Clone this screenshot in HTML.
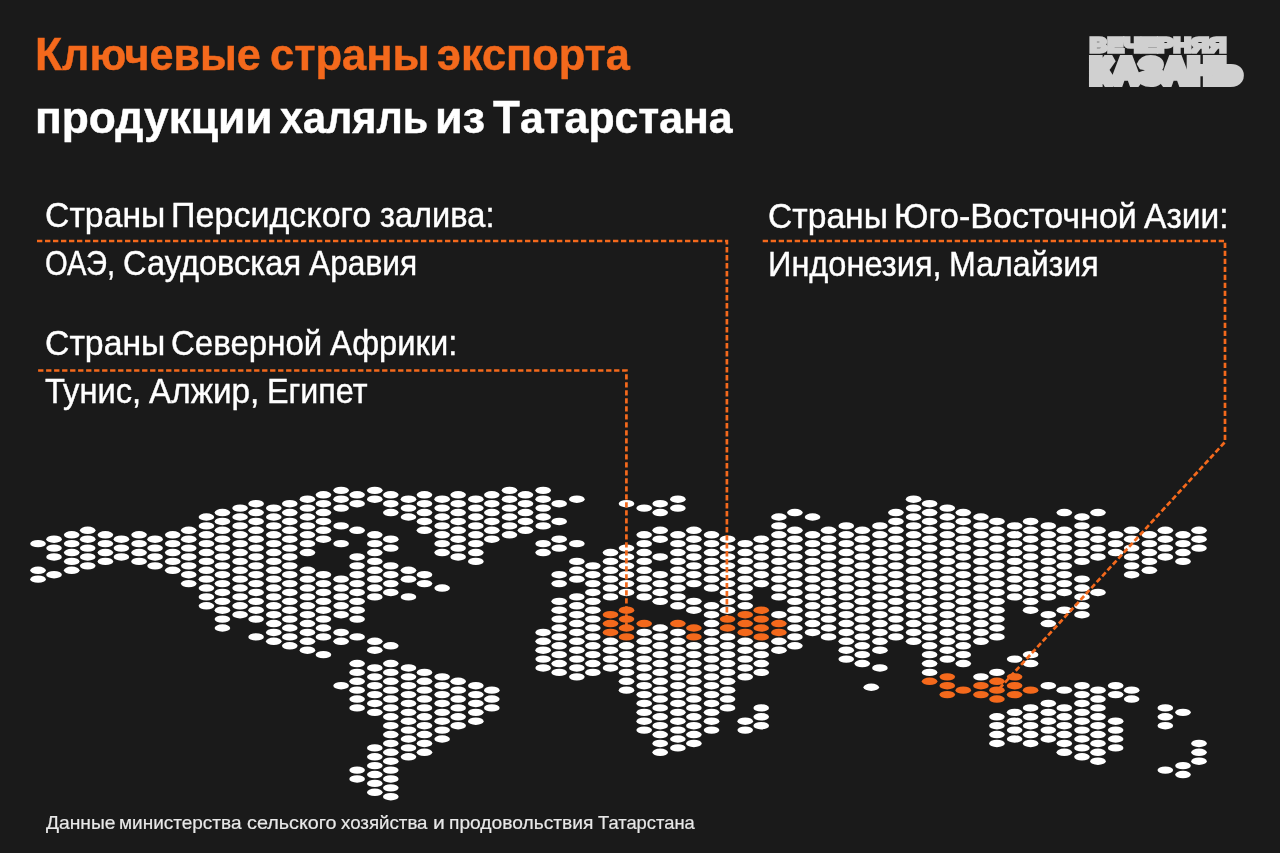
<!DOCTYPE html>
<html lang="ru">
<head>
<meta charset="utf-8">
<title>Ключевые страны экспорта продукции халяль из Татарстана</title>
<style>
html,body{margin:0;padding:0;background:#1a1a1a;}
body{width:1280px;height:853px;overflow:hidden;position:relative;font-family:"Liberation Sans",sans-serif;}
.t{position:absolute;left:0;width:1280px;height:1em;white-space:nowrap;line-height:1;margin:0;padding:0;}
.t span{position:absolute;top:0;display:block;transform-origin:0 0;}
.t b{font-size:1.03em;font-weight:inherit;line-height:0;}
svg{position:absolute;left:0;top:0;}
.w ellipse{fill:#ffffff;}
.o ellipse{fill:#f4691c;}
.ln{fill:none;stroke:#f4691c;stroke-width:2.7;stroke-dasharray:5.33 2.67;}
.logo{position:absolute;white-space:nowrap;line-height:1;font-weight:bold;color:#d0d0d0;transform-origin:0 0;}
</style>
</head>
<body>
<svg width="1280" height="853" viewBox="0 0 1280 853">
<g class="w">
<ellipse cx="38.05" cy="543.64" rx="7.8" ry="3.7"/><ellipse cx="38.05" cy="570.28" rx="7.8" ry="3.7"/><ellipse cx="38.05" cy="579.16" rx="7.8" ry="3.7"/>
<ellipse cx="54.05" cy="539.20" rx="7.8" ry="3.7"/><ellipse cx="54.05" cy="548.08" rx="7.8" ry="3.7"/><ellipse cx="54.05" cy="556.96" rx="7.8" ry="3.7"/><ellipse cx="54.05" cy="574.72" rx="7.8" ry="3.7"/>
<ellipse cx="71.72" cy="534.76" rx="7.8" ry="3.7"/><ellipse cx="71.72" cy="543.64" rx="7.8" ry="3.7"/><ellipse cx="71.72" cy="552.52" rx="7.8" ry="3.7"/><ellipse cx="71.72" cy="561.40" rx="7.8" ry="3.7"/><ellipse cx="71.72" cy="570.28" rx="7.8" ry="3.7"/>
<ellipse cx="87.72" cy="530.32" rx="7.8" ry="3.7"/><ellipse cx="87.72" cy="539.20" rx="7.8" ry="3.7"/><ellipse cx="87.72" cy="548.08" rx="7.8" ry="3.7"/><ellipse cx="87.72" cy="556.96" rx="7.8" ry="3.7"/><ellipse cx="87.72" cy="565.84" rx="7.8" ry="3.7"/>
<ellipse cx="105.40" cy="534.76" rx="7.8" ry="3.7"/><ellipse cx="105.40" cy="543.64" rx="7.8" ry="3.7"/><ellipse cx="105.40" cy="552.52" rx="7.8" ry="3.7"/><ellipse cx="105.40" cy="561.40" rx="7.8" ry="3.7"/>
<ellipse cx="121.40" cy="539.20" rx="7.8" ry="3.7"/><ellipse cx="121.40" cy="548.08" rx="7.8" ry="3.7"/><ellipse cx="121.40" cy="556.96" rx="7.8" ry="3.7"/>
<ellipse cx="139.07" cy="534.76" rx="7.8" ry="3.7"/><ellipse cx="139.07" cy="543.64" rx="7.8" ry="3.7"/><ellipse cx="139.07" cy="552.52" rx="7.8" ry="3.7"/><ellipse cx="139.07" cy="561.40" rx="7.8" ry="3.7"/>
<ellipse cx="155.07" cy="539.20" rx="7.8" ry="3.7"/><ellipse cx="155.07" cy="548.08" rx="7.8" ry="3.7"/><ellipse cx="155.07" cy="556.96" rx="7.8" ry="3.7"/><ellipse cx="155.07" cy="565.84" rx="7.8" ry="3.7"/>
<ellipse cx="172.75" cy="534.76" rx="7.8" ry="3.7"/><ellipse cx="172.75" cy="543.64" rx="7.8" ry="3.7"/><ellipse cx="172.75" cy="552.52" rx="7.8" ry="3.7"/><ellipse cx="172.75" cy="561.40" rx="7.8" ry="3.7"/><ellipse cx="172.75" cy="570.28" rx="7.8" ry="3.7"/>
<ellipse cx="188.75" cy="530.32" rx="7.8" ry="3.7"/><ellipse cx="188.75" cy="539.20" rx="7.8" ry="3.7"/><ellipse cx="188.75" cy="548.08" rx="7.8" ry="3.7"/><ellipse cx="188.75" cy="556.96" rx="7.8" ry="3.7"/><ellipse cx="188.75" cy="565.84" rx="7.8" ry="3.7"/><ellipse cx="188.75" cy="574.72" rx="7.8" ry="3.7"/><ellipse cx="188.75" cy="583.60" rx="7.8" ry="3.7"/>
<ellipse cx="206.43" cy="517.00" rx="7.8" ry="3.7"/><ellipse cx="206.43" cy="525.88" rx="7.8" ry="3.7"/><ellipse cx="206.43" cy="534.76" rx="7.8" ry="3.7"/><ellipse cx="206.43" cy="543.64" rx="7.8" ry="3.7"/><ellipse cx="206.43" cy="552.52" rx="7.8" ry="3.7"/><ellipse cx="206.43" cy="561.40" rx="7.8" ry="3.7"/><ellipse cx="206.43" cy="570.28" rx="7.8" ry="3.7"/><ellipse cx="206.43" cy="579.16" rx="7.8" ry="3.7"/><ellipse cx="206.43" cy="588.04" rx="7.8" ry="3.7"/><ellipse cx="206.43" cy="596.92" rx="7.8" ry="3.7"/><ellipse cx="206.43" cy="605.80" rx="7.8" ry="3.7"/>
<ellipse cx="222.43" cy="512.56" rx="7.8" ry="3.7"/><ellipse cx="222.43" cy="521.44" rx="7.8" ry="3.7"/><ellipse cx="222.43" cy="530.32" rx="7.8" ry="3.7"/><ellipse cx="222.43" cy="539.20" rx="7.8" ry="3.7"/><ellipse cx="222.43" cy="548.08" rx="7.8" ry="3.7"/><ellipse cx="222.43" cy="556.96" rx="7.8" ry="3.7"/><ellipse cx="222.43" cy="565.84" rx="7.8" ry="3.7"/><ellipse cx="222.43" cy="574.72" rx="7.8" ry="3.7"/><ellipse cx="222.43" cy="583.60" rx="7.8" ry="3.7"/><ellipse cx="222.43" cy="592.48" rx="7.8" ry="3.7"/><ellipse cx="222.43" cy="601.36" rx="7.8" ry="3.7"/><ellipse cx="222.43" cy="610.24" rx="7.8" ry="3.7"/><ellipse cx="222.43" cy="619.12" rx="7.8" ry="3.7"/><ellipse cx="222.43" cy="628.00" rx="7.8" ry="3.7"/>
<ellipse cx="240.10" cy="508.12" rx="7.8" ry="3.7"/><ellipse cx="240.10" cy="517.00" rx="7.8" ry="3.7"/><ellipse cx="240.10" cy="525.88" rx="7.8" ry="3.7"/><ellipse cx="240.10" cy="534.76" rx="7.8" ry="3.7"/><ellipse cx="240.10" cy="543.64" rx="7.8" ry="3.7"/><ellipse cx="240.10" cy="552.52" rx="7.8" ry="3.7"/><ellipse cx="240.10" cy="561.40" rx="7.8" ry="3.7"/><ellipse cx="240.10" cy="570.28" rx="7.8" ry="3.7"/><ellipse cx="240.10" cy="579.16" rx="7.8" ry="3.7"/><ellipse cx="240.10" cy="588.04" rx="7.8" ry="3.7"/><ellipse cx="240.10" cy="596.92" rx="7.8" ry="3.7"/><ellipse cx="240.10" cy="605.80" rx="7.8" ry="3.7"/><ellipse cx="240.10" cy="614.68" rx="7.8" ry="3.7"/>
<ellipse cx="256.10" cy="503.68" rx="7.8" ry="3.7"/><ellipse cx="256.10" cy="512.56" rx="7.8" ry="3.7"/><ellipse cx="256.10" cy="521.44" rx="7.8" ry="3.7"/><ellipse cx="256.10" cy="530.32" rx="7.8" ry="3.7"/><ellipse cx="256.10" cy="539.20" rx="7.8" ry="3.7"/><ellipse cx="256.10" cy="548.08" rx="7.8" ry="3.7"/><ellipse cx="256.10" cy="556.96" rx="7.8" ry="3.7"/><ellipse cx="256.10" cy="565.84" rx="7.8" ry="3.7"/><ellipse cx="256.10" cy="574.72" rx="7.8" ry="3.7"/><ellipse cx="256.10" cy="583.60" rx="7.8" ry="3.7"/><ellipse cx="256.10" cy="592.48" rx="7.8" ry="3.7"/><ellipse cx="256.10" cy="601.36" rx="7.8" ry="3.7"/><ellipse cx="256.10" cy="610.24" rx="7.8" ry="3.7"/><ellipse cx="256.10" cy="619.12" rx="7.8" ry="3.7"/><ellipse cx="256.10" cy="636.88" rx="7.8" ry="3.7"/>
<ellipse cx="273.77" cy="508.12" rx="7.8" ry="3.7"/><ellipse cx="273.77" cy="517.00" rx="7.8" ry="3.7"/><ellipse cx="273.77" cy="525.88" rx="7.8" ry="3.7"/><ellipse cx="273.77" cy="534.76" rx="7.8" ry="3.7"/><ellipse cx="273.77" cy="543.64" rx="7.8" ry="3.7"/><ellipse cx="273.77" cy="552.52" rx="7.8" ry="3.7"/><ellipse cx="273.77" cy="561.40" rx="7.8" ry="3.7"/><ellipse cx="273.77" cy="570.28" rx="7.8" ry="3.7"/><ellipse cx="273.77" cy="579.16" rx="7.8" ry="3.7"/><ellipse cx="273.77" cy="588.04" rx="7.8" ry="3.7"/><ellipse cx="273.77" cy="596.92" rx="7.8" ry="3.7"/><ellipse cx="273.77" cy="605.80" rx="7.8" ry="3.7"/><ellipse cx="273.77" cy="614.68" rx="7.8" ry="3.7"/><ellipse cx="273.77" cy="623.56" rx="7.8" ry="3.7"/><ellipse cx="273.77" cy="632.44" rx="7.8" ry="3.7"/><ellipse cx="273.77" cy="641.32" rx="7.8" ry="3.7"/>
<ellipse cx="289.77" cy="503.68" rx="7.8" ry="3.7"/><ellipse cx="289.77" cy="512.56" rx="7.8" ry="3.7"/><ellipse cx="289.77" cy="521.44" rx="7.8" ry="3.7"/><ellipse cx="289.77" cy="530.32" rx="7.8" ry="3.7"/><ellipse cx="289.77" cy="539.20" rx="7.8" ry="3.7"/><ellipse cx="289.77" cy="548.08" rx="7.8" ry="3.7"/><ellipse cx="289.77" cy="556.96" rx="7.8" ry="3.7"/><ellipse cx="289.77" cy="565.84" rx="7.8" ry="3.7"/><ellipse cx="289.77" cy="574.72" rx="7.8" ry="3.7"/><ellipse cx="289.77" cy="583.60" rx="7.8" ry="3.7"/><ellipse cx="289.77" cy="592.48" rx="7.8" ry="3.7"/><ellipse cx="289.77" cy="601.36" rx="7.8" ry="3.7"/><ellipse cx="289.77" cy="610.24" rx="7.8" ry="3.7"/><ellipse cx="289.77" cy="619.12" rx="7.8" ry="3.7"/><ellipse cx="289.77" cy="628.00" rx="7.8" ry="3.7"/><ellipse cx="289.77" cy="636.88" rx="7.8" ry="3.7"/><ellipse cx="289.77" cy="645.76" rx="7.8" ry="3.7"/>
<ellipse cx="307.45" cy="499.24" rx="7.8" ry="3.7"/><ellipse cx="307.45" cy="508.12" rx="7.8" ry="3.7"/><ellipse cx="307.45" cy="517.00" rx="7.8" ry="3.7"/><ellipse cx="307.45" cy="525.88" rx="7.8" ry="3.7"/><ellipse cx="307.45" cy="534.76" rx="7.8" ry="3.7"/><ellipse cx="307.45" cy="543.64" rx="7.8" ry="3.7"/><ellipse cx="307.45" cy="552.52" rx="7.8" ry="3.7"/><ellipse cx="307.45" cy="570.28" rx="7.8" ry="3.7"/><ellipse cx="307.45" cy="579.16" rx="7.8" ry="3.7"/><ellipse cx="307.45" cy="588.04" rx="7.8" ry="3.7"/><ellipse cx="307.45" cy="596.92" rx="7.8" ry="3.7"/><ellipse cx="307.45" cy="605.80" rx="7.8" ry="3.7"/><ellipse cx="307.45" cy="614.68" rx="7.8" ry="3.7"/><ellipse cx="307.45" cy="623.56" rx="7.8" ry="3.7"/><ellipse cx="307.45" cy="632.44" rx="7.8" ry="3.7"/><ellipse cx="307.45" cy="641.32" rx="7.8" ry="3.7"/><ellipse cx="307.45" cy="650.20" rx="7.8" ry="3.7"/>
<ellipse cx="323.45" cy="494.80" rx="7.8" ry="3.7"/><ellipse cx="323.45" cy="503.68" rx="7.8" ry="3.7"/><ellipse cx="323.45" cy="512.56" rx="7.8" ry="3.7"/><ellipse cx="323.45" cy="521.44" rx="7.8" ry="3.7"/><ellipse cx="323.45" cy="530.32" rx="7.8" ry="3.7"/><ellipse cx="323.45" cy="539.20" rx="7.8" ry="3.7"/><ellipse cx="323.45" cy="574.72" rx="7.8" ry="3.7"/><ellipse cx="323.45" cy="583.60" rx="7.8" ry="3.7"/><ellipse cx="323.45" cy="592.48" rx="7.8" ry="3.7"/><ellipse cx="323.45" cy="601.36" rx="7.8" ry="3.7"/><ellipse cx="323.45" cy="610.24" rx="7.8" ry="3.7"/><ellipse cx="323.45" cy="619.12" rx="7.8" ry="3.7"/><ellipse cx="323.45" cy="628.00" rx="7.8" ry="3.7"/><ellipse cx="323.45" cy="636.88" rx="7.8" ry="3.7"/><ellipse cx="323.45" cy="654.64" rx="7.8" ry="3.7"/>
<ellipse cx="341.12" cy="490.36" rx="7.8" ry="3.7"/><ellipse cx="341.12" cy="499.24" rx="7.8" ry="3.7"/><ellipse cx="341.12" cy="508.12" rx="7.8" ry="3.7"/><ellipse cx="341.12" cy="525.88" rx="7.8" ry="3.7"/><ellipse cx="341.12" cy="543.64" rx="7.8" ry="3.7"/><ellipse cx="341.12" cy="579.16" rx="7.8" ry="3.7"/><ellipse cx="341.12" cy="588.04" rx="7.8" ry="3.7"/><ellipse cx="341.12" cy="596.92" rx="7.8" ry="3.7"/><ellipse cx="341.12" cy="605.80" rx="7.8" ry="3.7"/><ellipse cx="341.12" cy="614.68" rx="7.8" ry="3.7"/><ellipse cx="341.12" cy="632.44" rx="7.8" ry="3.7"/><ellipse cx="341.12" cy="641.32" rx="7.8" ry="3.7"/><ellipse cx="341.12" cy="685.72" rx="7.8" ry="3.7"/>
<ellipse cx="357.12" cy="494.80" rx="7.8" ry="3.7"/><ellipse cx="357.12" cy="503.68" rx="7.8" ry="3.7"/><ellipse cx="357.12" cy="530.32" rx="7.8" ry="3.7"/><ellipse cx="357.12" cy="556.96" rx="7.8" ry="3.7"/><ellipse cx="357.12" cy="565.84" rx="7.8" ry="3.7"/><ellipse cx="357.12" cy="574.72" rx="7.8" ry="3.7"/><ellipse cx="357.12" cy="583.60" rx="7.8" ry="3.7"/><ellipse cx="357.12" cy="592.48" rx="7.8" ry="3.7"/><ellipse cx="357.12" cy="601.36" rx="7.8" ry="3.7"/><ellipse cx="357.12" cy="610.24" rx="7.8" ry="3.7"/><ellipse cx="357.12" cy="619.12" rx="7.8" ry="3.7"/><ellipse cx="357.12" cy="636.88" rx="7.8" ry="3.7"/><ellipse cx="357.12" cy="663.52" rx="7.8" ry="3.7"/><ellipse cx="357.12" cy="672.40" rx="7.8" ry="3.7"/><ellipse cx="357.12" cy="681.28" rx="7.8" ry="3.7"/><ellipse cx="357.12" cy="690.16" rx="7.8" ry="3.7"/><ellipse cx="357.12" cy="699.04" rx="7.8" ry="3.7"/><ellipse cx="357.12" cy="707.92" rx="7.8" ry="3.7"/><ellipse cx="357.12" cy="770.08" rx="7.8" ry="3.7"/><ellipse cx="357.12" cy="778.96" rx="7.8" ry="3.7"/>
<ellipse cx="374.80" cy="490.36" rx="7.8" ry="3.7"/><ellipse cx="374.80" cy="499.24" rx="7.8" ry="3.7"/><ellipse cx="374.80" cy="534.76" rx="7.8" ry="3.7"/><ellipse cx="374.80" cy="543.64" rx="7.8" ry="3.7"/><ellipse cx="374.80" cy="552.52" rx="7.8" ry="3.7"/><ellipse cx="374.80" cy="561.40" rx="7.8" ry="3.7"/><ellipse cx="374.80" cy="570.28" rx="7.8" ry="3.7"/><ellipse cx="374.80" cy="579.16" rx="7.8" ry="3.7"/><ellipse cx="374.80" cy="588.04" rx="7.8" ry="3.7"/><ellipse cx="374.80" cy="596.92" rx="7.8" ry="3.7"/><ellipse cx="374.80" cy="641.32" rx="7.8" ry="3.7"/><ellipse cx="374.80" cy="650.20" rx="7.8" ry="3.7"/><ellipse cx="374.80" cy="667.96" rx="7.8" ry="3.7"/><ellipse cx="374.80" cy="676.84" rx="7.8" ry="3.7"/><ellipse cx="374.80" cy="685.72" rx="7.8" ry="3.7"/><ellipse cx="374.80" cy="694.60" rx="7.8" ry="3.7"/><ellipse cx="374.80" cy="703.48" rx="7.8" ry="3.7"/><ellipse cx="374.80" cy="712.36" rx="7.8" ry="3.7"/><ellipse cx="374.80" cy="747.88" rx="7.8" ry="3.7"/><ellipse cx="374.80" cy="756.76" rx="7.8" ry="3.7"/><ellipse cx="374.80" cy="765.64" rx="7.8" ry="3.7"/><ellipse cx="374.80" cy="774.52" rx="7.8" ry="3.7"/><ellipse cx="374.80" cy="783.40" rx="7.8" ry="3.7"/><ellipse cx="374.80" cy="792.28" rx="7.8" ry="3.7"/>
<ellipse cx="390.80" cy="494.80" rx="7.8" ry="3.7"/><ellipse cx="390.80" cy="503.68" rx="7.8" ry="3.7"/><ellipse cx="390.80" cy="512.56" rx="7.8" ry="3.7"/><ellipse cx="390.80" cy="539.20" rx="7.8" ry="3.7"/><ellipse cx="390.80" cy="548.08" rx="7.8" ry="3.7"/><ellipse cx="390.80" cy="565.84" rx="7.8" ry="3.7"/><ellipse cx="390.80" cy="574.72" rx="7.8" ry="3.7"/><ellipse cx="390.80" cy="583.60" rx="7.8" ry="3.7"/><ellipse cx="390.80" cy="592.48" rx="7.8" ry="3.7"/><ellipse cx="390.80" cy="645.76" rx="7.8" ry="3.7"/><ellipse cx="390.80" cy="663.52" rx="7.8" ry="3.7"/><ellipse cx="390.80" cy="672.40" rx="7.8" ry="3.7"/><ellipse cx="390.80" cy="681.28" rx="7.8" ry="3.7"/><ellipse cx="390.80" cy="690.16" rx="7.8" ry="3.7"/><ellipse cx="390.80" cy="699.04" rx="7.8" ry="3.7"/><ellipse cx="390.80" cy="707.92" rx="7.8" ry="3.7"/><ellipse cx="390.80" cy="716.80" rx="7.8" ry="3.7"/><ellipse cx="390.80" cy="725.68" rx="7.8" ry="3.7"/><ellipse cx="390.80" cy="734.56" rx="7.8" ry="3.7"/><ellipse cx="390.80" cy="743.44" rx="7.8" ry="3.7"/><ellipse cx="390.80" cy="752.32" rx="7.8" ry="3.7"/><ellipse cx="390.80" cy="761.20" rx="7.8" ry="3.7"/><ellipse cx="390.80" cy="770.08" rx="7.8" ry="3.7"/><ellipse cx="390.80" cy="778.96" rx="7.8" ry="3.7"/><ellipse cx="390.80" cy="787.84" rx="7.8" ry="3.7"/><ellipse cx="390.80" cy="796.72" rx="7.8" ry="3.7"/>
<ellipse cx="408.47" cy="499.24" rx="7.8" ry="3.7"/><ellipse cx="408.47" cy="508.12" rx="7.8" ry="3.7"/><ellipse cx="408.47" cy="517.00" rx="7.8" ry="3.7"/><ellipse cx="408.47" cy="570.28" rx="7.8" ry="3.7"/><ellipse cx="408.47" cy="579.16" rx="7.8" ry="3.7"/><ellipse cx="408.47" cy="596.92" rx="7.8" ry="3.7"/><ellipse cx="408.47" cy="667.96" rx="7.8" ry="3.7"/><ellipse cx="408.47" cy="676.84" rx="7.8" ry="3.7"/><ellipse cx="408.47" cy="685.72" rx="7.8" ry="3.7"/><ellipse cx="408.47" cy="694.60" rx="7.8" ry="3.7"/><ellipse cx="408.47" cy="703.48" rx="7.8" ry="3.7"/><ellipse cx="408.47" cy="712.36" rx="7.8" ry="3.7"/><ellipse cx="408.47" cy="721.24" rx="7.8" ry="3.7"/><ellipse cx="408.47" cy="730.12" rx="7.8" ry="3.7"/><ellipse cx="408.47" cy="739.00" rx="7.8" ry="3.7"/><ellipse cx="408.47" cy="747.88" rx="7.8" ry="3.7"/><ellipse cx="408.47" cy="756.76" rx="7.8" ry="3.7"/>
<ellipse cx="424.47" cy="494.80" rx="7.8" ry="3.7"/><ellipse cx="424.47" cy="503.68" rx="7.8" ry="3.7"/><ellipse cx="424.47" cy="512.56" rx="7.8" ry="3.7"/><ellipse cx="424.47" cy="521.44" rx="7.8" ry="3.7"/><ellipse cx="424.47" cy="530.32" rx="7.8" ry="3.7"/><ellipse cx="424.47" cy="574.72" rx="7.8" ry="3.7"/><ellipse cx="424.47" cy="583.60" rx="7.8" ry="3.7"/><ellipse cx="424.47" cy="672.40" rx="7.8" ry="3.7"/><ellipse cx="424.47" cy="681.28" rx="7.8" ry="3.7"/><ellipse cx="424.47" cy="690.16" rx="7.8" ry="3.7"/><ellipse cx="424.47" cy="699.04" rx="7.8" ry="3.7"/><ellipse cx="424.47" cy="707.92" rx="7.8" ry="3.7"/><ellipse cx="424.47" cy="716.80" rx="7.8" ry="3.7"/><ellipse cx="424.47" cy="725.68" rx="7.8" ry="3.7"/><ellipse cx="424.47" cy="734.56" rx="7.8" ry="3.7"/><ellipse cx="424.47" cy="743.44" rx="7.8" ry="3.7"/><ellipse cx="424.47" cy="752.32" rx="7.8" ry="3.7"/>
<ellipse cx="442.15" cy="499.24" rx="7.8" ry="3.7"/><ellipse cx="442.15" cy="508.12" rx="7.8" ry="3.7"/><ellipse cx="442.15" cy="517.00" rx="7.8" ry="3.7"/><ellipse cx="442.15" cy="525.88" rx="7.8" ry="3.7"/><ellipse cx="442.15" cy="534.76" rx="7.8" ry="3.7"/><ellipse cx="442.15" cy="543.64" rx="7.8" ry="3.7"/><ellipse cx="442.15" cy="552.52" rx="7.8" ry="3.7"/><ellipse cx="442.15" cy="588.04" rx="7.8" ry="3.7"/><ellipse cx="442.15" cy="676.84" rx="7.8" ry="3.7"/><ellipse cx="442.15" cy="685.72" rx="7.8" ry="3.7"/><ellipse cx="442.15" cy="694.60" rx="7.8" ry="3.7"/><ellipse cx="442.15" cy="703.48" rx="7.8" ry="3.7"/><ellipse cx="442.15" cy="712.36" rx="7.8" ry="3.7"/><ellipse cx="442.15" cy="721.24" rx="7.8" ry="3.7"/><ellipse cx="442.15" cy="730.12" rx="7.8" ry="3.7"/><ellipse cx="442.15" cy="739.00" rx="7.8" ry="3.7"/>
<ellipse cx="458.15" cy="494.80" rx="7.8" ry="3.7"/><ellipse cx="458.15" cy="503.68" rx="7.8" ry="3.7"/><ellipse cx="458.15" cy="512.56" rx="7.8" ry="3.7"/><ellipse cx="458.15" cy="521.44" rx="7.8" ry="3.7"/><ellipse cx="458.15" cy="530.32" rx="7.8" ry="3.7"/><ellipse cx="458.15" cy="539.20" rx="7.8" ry="3.7"/><ellipse cx="458.15" cy="548.08" rx="7.8" ry="3.7"/><ellipse cx="458.15" cy="556.96" rx="7.8" ry="3.7"/><ellipse cx="458.15" cy="681.28" rx="7.8" ry="3.7"/><ellipse cx="458.15" cy="690.16" rx="7.8" ry="3.7"/><ellipse cx="458.15" cy="699.04" rx="7.8" ry="3.7"/><ellipse cx="458.15" cy="707.92" rx="7.8" ry="3.7"/><ellipse cx="458.15" cy="716.80" rx="7.8" ry="3.7"/><ellipse cx="458.15" cy="725.68" rx="7.8" ry="3.7"/>
<ellipse cx="475.82" cy="499.24" rx="7.8" ry="3.7"/><ellipse cx="475.82" cy="508.12" rx="7.8" ry="3.7"/><ellipse cx="475.82" cy="517.00" rx="7.8" ry="3.7"/><ellipse cx="475.82" cy="525.88" rx="7.8" ry="3.7"/><ellipse cx="475.82" cy="534.76" rx="7.8" ry="3.7"/><ellipse cx="475.82" cy="543.64" rx="7.8" ry="3.7"/><ellipse cx="475.82" cy="552.52" rx="7.8" ry="3.7"/><ellipse cx="475.82" cy="561.40" rx="7.8" ry="3.7"/><ellipse cx="475.82" cy="685.72" rx="7.8" ry="3.7"/><ellipse cx="475.82" cy="694.60" rx="7.8" ry="3.7"/><ellipse cx="475.82" cy="703.48" rx="7.8" ry="3.7"/><ellipse cx="475.82" cy="712.36" rx="7.8" ry="3.7"/><ellipse cx="475.82" cy="721.24" rx="7.8" ry="3.7"/>
<ellipse cx="491.82" cy="494.80" rx="7.8" ry="3.7"/><ellipse cx="491.82" cy="503.68" rx="7.8" ry="3.7"/><ellipse cx="491.82" cy="512.56" rx="7.8" ry="3.7"/><ellipse cx="491.82" cy="521.44" rx="7.8" ry="3.7"/><ellipse cx="491.82" cy="530.32" rx="7.8" ry="3.7"/><ellipse cx="491.82" cy="539.20" rx="7.8" ry="3.7"/><ellipse cx="491.82" cy="690.16" rx="7.8" ry="3.7"/><ellipse cx="491.82" cy="699.04" rx="7.8" ry="3.7"/><ellipse cx="491.82" cy="707.92" rx="7.8" ry="3.7"/>
<ellipse cx="509.50" cy="490.36" rx="7.8" ry="3.7"/><ellipse cx="509.50" cy="499.24" rx="7.8" ry="3.7"/><ellipse cx="509.50" cy="508.12" rx="7.8" ry="3.7"/><ellipse cx="509.50" cy="517.00" rx="7.8" ry="3.7"/><ellipse cx="509.50" cy="525.88" rx="7.8" ry="3.7"/><ellipse cx="509.50" cy="534.76" rx="7.8" ry="3.7"/>
<ellipse cx="525.50" cy="494.80" rx="7.8" ry="3.7"/><ellipse cx="525.50" cy="503.68" rx="7.8" ry="3.7"/><ellipse cx="525.50" cy="512.56" rx="7.8" ry="3.7"/><ellipse cx="525.50" cy="521.44" rx="7.8" ry="3.7"/><ellipse cx="525.50" cy="530.32" rx="7.8" ry="3.7"/>
<ellipse cx="543.17" cy="490.36" rx="7.8" ry="3.7"/><ellipse cx="543.17" cy="499.24" rx="7.8" ry="3.7"/><ellipse cx="543.17" cy="508.12" rx="7.8" ry="3.7"/><ellipse cx="543.17" cy="517.00" rx="7.8" ry="3.7"/><ellipse cx="543.17" cy="525.88" rx="7.8" ry="3.7"/><ellipse cx="543.17" cy="543.64" rx="7.8" ry="3.7"/><ellipse cx="543.17" cy="552.52" rx="7.8" ry="3.7"/><ellipse cx="543.17" cy="632.44" rx="7.8" ry="3.7"/><ellipse cx="543.17" cy="641.32" rx="7.8" ry="3.7"/><ellipse cx="543.17" cy="650.20" rx="7.8" ry="3.7"/><ellipse cx="543.17" cy="659.08" rx="7.8" ry="3.7"/><ellipse cx="543.17" cy="667.96" rx="7.8" ry="3.7"/>
<ellipse cx="559.17" cy="503.68" rx="7.8" ry="3.7"/><ellipse cx="559.17" cy="521.44" rx="7.8" ry="3.7"/><ellipse cx="559.17" cy="539.20" rx="7.8" ry="3.7"/><ellipse cx="559.17" cy="548.08" rx="7.8" ry="3.7"/><ellipse cx="559.17" cy="574.72" rx="7.8" ry="3.7"/><ellipse cx="559.17" cy="583.60" rx="7.8" ry="3.7"/><ellipse cx="559.17" cy="601.36" rx="7.8" ry="3.7"/><ellipse cx="559.17" cy="610.24" rx="7.8" ry="3.7"/><ellipse cx="559.17" cy="619.12" rx="7.8" ry="3.7"/><ellipse cx="559.17" cy="628.00" rx="7.8" ry="3.7"/><ellipse cx="559.17" cy="636.88" rx="7.8" ry="3.7"/><ellipse cx="559.17" cy="645.76" rx="7.8" ry="3.7"/><ellipse cx="559.17" cy="654.64" rx="7.8" ry="3.7"/><ellipse cx="559.17" cy="663.52" rx="7.8" ry="3.7"/><ellipse cx="559.17" cy="672.40" rx="7.8" ry="3.7"/>
<ellipse cx="576.85" cy="499.24" rx="7.8" ry="3.7"/><ellipse cx="576.85" cy="543.64" rx="7.8" ry="3.7"/><ellipse cx="576.85" cy="561.40" rx="7.8" ry="3.7"/><ellipse cx="576.85" cy="570.28" rx="7.8" ry="3.7"/><ellipse cx="576.85" cy="579.16" rx="7.8" ry="3.7"/><ellipse cx="576.85" cy="596.92" rx="7.8" ry="3.7"/><ellipse cx="576.85" cy="605.80" rx="7.8" ry="3.7"/><ellipse cx="576.85" cy="614.68" rx="7.8" ry="3.7"/><ellipse cx="576.85" cy="623.56" rx="7.8" ry="3.7"/><ellipse cx="576.85" cy="632.44" rx="7.8" ry="3.7"/><ellipse cx="576.85" cy="641.32" rx="7.8" ry="3.7"/><ellipse cx="576.85" cy="650.20" rx="7.8" ry="3.7"/><ellipse cx="576.85" cy="659.08" rx="7.8" ry="3.7"/><ellipse cx="576.85" cy="667.96" rx="7.8" ry="3.7"/><ellipse cx="576.85" cy="676.84" rx="7.8" ry="3.7"/>
<ellipse cx="592.85" cy="565.84" rx="7.8" ry="3.7"/><ellipse cx="592.85" cy="574.72" rx="7.8" ry="3.7"/><ellipse cx="592.85" cy="583.60" rx="7.8" ry="3.7"/><ellipse cx="592.85" cy="592.48" rx="7.8" ry="3.7"/><ellipse cx="592.85" cy="601.36" rx="7.8" ry="3.7"/><ellipse cx="592.85" cy="610.24" rx="7.8" ry="3.7"/><ellipse cx="592.85" cy="619.12" rx="7.8" ry="3.7"/><ellipse cx="592.85" cy="628.00" rx="7.8" ry="3.7"/><ellipse cx="592.85" cy="636.88" rx="7.8" ry="3.7"/><ellipse cx="592.85" cy="645.76" rx="7.8" ry="3.7"/><ellipse cx="592.85" cy="654.64" rx="7.8" ry="3.7"/><ellipse cx="592.85" cy="663.52" rx="7.8" ry="3.7"/><ellipse cx="592.85" cy="672.40" rx="7.8" ry="3.7"/>
<ellipse cx="610.52" cy="552.52" rx="7.8" ry="3.7"/><ellipse cx="610.52" cy="561.40" rx="7.8" ry="3.7"/><ellipse cx="610.52" cy="570.28" rx="7.8" ry="3.7"/><ellipse cx="610.52" cy="579.16" rx="7.8" ry="3.7"/><ellipse cx="610.52" cy="588.04" rx="7.8" ry="3.7"/><ellipse cx="610.52" cy="596.92" rx="7.8" ry="3.7"/><ellipse cx="610.52" cy="641.32" rx="7.8" ry="3.7"/><ellipse cx="610.52" cy="650.20" rx="7.8" ry="3.7"/><ellipse cx="610.52" cy="659.08" rx="7.8" ry="3.7"/><ellipse cx="610.52" cy="667.96" rx="7.8" ry="3.7"/>
<ellipse cx="626.52" cy="503.68" rx="7.8" ry="3.7"/><ellipse cx="626.52" cy="548.08" rx="7.8" ry="3.7"/><ellipse cx="626.52" cy="556.96" rx="7.8" ry="3.7"/><ellipse cx="626.52" cy="565.84" rx="7.8" ry="3.7"/><ellipse cx="626.52" cy="574.72" rx="7.8" ry="3.7"/><ellipse cx="626.52" cy="583.60" rx="7.8" ry="3.7"/><ellipse cx="626.52" cy="592.48" rx="7.8" ry="3.7"/><ellipse cx="626.52" cy="645.76" rx="7.8" ry="3.7"/><ellipse cx="626.52" cy="654.64" rx="7.8" ry="3.7"/><ellipse cx="626.52" cy="663.52" rx="7.8" ry="3.7"/><ellipse cx="626.52" cy="672.40" rx="7.8" ry="3.7"/><ellipse cx="626.52" cy="681.28" rx="7.8" ry="3.7"/><ellipse cx="626.52" cy="690.16" rx="7.8" ry="3.7"/>
<ellipse cx="644.20" cy="508.12" rx="7.8" ry="3.7"/><ellipse cx="644.20" cy="534.76" rx="7.8" ry="3.7"/><ellipse cx="644.20" cy="543.64" rx="7.8" ry="3.7"/><ellipse cx="644.20" cy="552.52" rx="7.8" ry="3.7"/><ellipse cx="644.20" cy="561.40" rx="7.8" ry="3.7"/><ellipse cx="644.20" cy="570.28" rx="7.8" ry="3.7"/><ellipse cx="644.20" cy="579.16" rx="7.8" ry="3.7"/><ellipse cx="644.20" cy="588.04" rx="7.8" ry="3.7"/><ellipse cx="644.20" cy="596.92" rx="7.8" ry="3.7"/><ellipse cx="644.20" cy="632.44" rx="7.8" ry="3.7"/><ellipse cx="644.20" cy="641.32" rx="7.8" ry="3.7"/><ellipse cx="644.20" cy="650.20" rx="7.8" ry="3.7"/><ellipse cx="644.20" cy="659.08" rx="7.8" ry="3.7"/><ellipse cx="644.20" cy="667.96" rx="7.8" ry="3.7"/><ellipse cx="644.20" cy="676.84" rx="7.8" ry="3.7"/><ellipse cx="644.20" cy="685.72" rx="7.8" ry="3.7"/><ellipse cx="644.20" cy="694.60" rx="7.8" ry="3.7"/><ellipse cx="644.20" cy="703.48" rx="7.8" ry="3.7"/><ellipse cx="644.20" cy="712.36" rx="7.8" ry="3.7"/><ellipse cx="644.20" cy="721.24" rx="7.8" ry="3.7"/><ellipse cx="644.20" cy="730.12" rx="7.8" ry="3.7"/>
<ellipse cx="660.20" cy="503.68" rx="7.8" ry="3.7"/><ellipse cx="660.20" cy="512.56" rx="7.8" ry="3.7"/><ellipse cx="660.20" cy="530.32" rx="7.8" ry="3.7"/><ellipse cx="660.20" cy="539.20" rx="7.8" ry="3.7"/><ellipse cx="660.20" cy="556.96" rx="7.8" ry="3.7"/><ellipse cx="660.20" cy="574.72" rx="7.8" ry="3.7"/><ellipse cx="660.20" cy="583.60" rx="7.8" ry="3.7"/><ellipse cx="660.20" cy="592.48" rx="7.8" ry="3.7"/><ellipse cx="660.20" cy="601.36" rx="7.8" ry="3.7"/><ellipse cx="660.20" cy="628.00" rx="7.8" ry="3.7"/><ellipse cx="660.20" cy="636.88" rx="7.8" ry="3.7"/><ellipse cx="660.20" cy="645.76" rx="7.8" ry="3.7"/><ellipse cx="660.20" cy="654.64" rx="7.8" ry="3.7"/><ellipse cx="660.20" cy="663.52" rx="7.8" ry="3.7"/><ellipse cx="660.20" cy="672.40" rx="7.8" ry="3.7"/><ellipse cx="660.20" cy="681.28" rx="7.8" ry="3.7"/><ellipse cx="660.20" cy="690.16" rx="7.8" ry="3.7"/><ellipse cx="660.20" cy="699.04" rx="7.8" ry="3.7"/><ellipse cx="660.20" cy="707.92" rx="7.8" ry="3.7"/><ellipse cx="660.20" cy="716.80" rx="7.8" ry="3.7"/><ellipse cx="660.20" cy="725.68" rx="7.8" ry="3.7"/><ellipse cx="660.20" cy="734.56" rx="7.8" ry="3.7"/><ellipse cx="660.20" cy="743.44" rx="7.8" ry="3.7"/><ellipse cx="660.20" cy="752.32" rx="7.8" ry="3.7"/>
<ellipse cx="677.87" cy="499.24" rx="7.8" ry="3.7"/><ellipse cx="677.87" cy="508.12" rx="7.8" ry="3.7"/><ellipse cx="677.87" cy="534.76" rx="7.8" ry="3.7"/><ellipse cx="677.87" cy="543.64" rx="7.8" ry="3.7"/><ellipse cx="677.87" cy="552.52" rx="7.8" ry="3.7"/><ellipse cx="677.87" cy="561.40" rx="7.8" ry="3.7"/><ellipse cx="677.87" cy="570.28" rx="7.8" ry="3.7"/><ellipse cx="677.87" cy="579.16" rx="7.8" ry="3.7"/><ellipse cx="677.87" cy="588.04" rx="7.8" ry="3.7"/><ellipse cx="677.87" cy="596.92" rx="7.8" ry="3.7"/><ellipse cx="677.87" cy="605.80" rx="7.8" ry="3.7"/><ellipse cx="677.87" cy="632.44" rx="7.8" ry="3.7"/><ellipse cx="677.87" cy="641.32" rx="7.8" ry="3.7"/><ellipse cx="677.87" cy="650.20" rx="7.8" ry="3.7"/><ellipse cx="677.87" cy="659.08" rx="7.8" ry="3.7"/><ellipse cx="677.87" cy="667.96" rx="7.8" ry="3.7"/><ellipse cx="677.87" cy="676.84" rx="7.8" ry="3.7"/><ellipse cx="677.87" cy="685.72" rx="7.8" ry="3.7"/><ellipse cx="677.87" cy="694.60" rx="7.8" ry="3.7"/><ellipse cx="677.87" cy="703.48" rx="7.8" ry="3.7"/><ellipse cx="677.87" cy="712.36" rx="7.8" ry="3.7"/><ellipse cx="677.87" cy="721.24" rx="7.8" ry="3.7"/><ellipse cx="677.87" cy="730.12" rx="7.8" ry="3.7"/><ellipse cx="677.87" cy="739.00" rx="7.8" ry="3.7"/><ellipse cx="677.87" cy="747.88" rx="7.8" ry="3.7"/>
<ellipse cx="693.87" cy="530.32" rx="7.8" ry="3.7"/><ellipse cx="693.87" cy="539.20" rx="7.8" ry="3.7"/><ellipse cx="693.87" cy="548.08" rx="7.8" ry="3.7"/><ellipse cx="693.87" cy="556.96" rx="7.8" ry="3.7"/><ellipse cx="693.87" cy="565.84" rx="7.8" ry="3.7"/><ellipse cx="693.87" cy="574.72" rx="7.8" ry="3.7"/><ellipse cx="693.87" cy="583.60" rx="7.8" ry="3.7"/><ellipse cx="693.87" cy="601.36" rx="7.8" ry="3.7"/><ellipse cx="693.87" cy="610.24" rx="7.8" ry="3.7"/><ellipse cx="693.87" cy="645.76" rx="7.8" ry="3.7"/><ellipse cx="693.87" cy="654.64" rx="7.8" ry="3.7"/><ellipse cx="693.87" cy="663.52" rx="7.8" ry="3.7"/><ellipse cx="693.87" cy="672.40" rx="7.8" ry="3.7"/><ellipse cx="693.87" cy="681.28" rx="7.8" ry="3.7"/><ellipse cx="693.87" cy="690.16" rx="7.8" ry="3.7"/><ellipse cx="693.87" cy="699.04" rx="7.8" ry="3.7"/><ellipse cx="693.87" cy="707.92" rx="7.8" ry="3.7"/><ellipse cx="693.87" cy="716.80" rx="7.8" ry="3.7"/><ellipse cx="693.87" cy="725.68" rx="7.8" ry="3.7"/><ellipse cx="693.87" cy="734.56" rx="7.8" ry="3.7"/><ellipse cx="693.87" cy="743.44" rx="7.8" ry="3.7"/>
<ellipse cx="711.55" cy="534.76" rx="7.8" ry="3.7"/><ellipse cx="711.55" cy="543.64" rx="7.8" ry="3.7"/><ellipse cx="711.55" cy="552.52" rx="7.8" ry="3.7"/><ellipse cx="711.55" cy="561.40" rx="7.8" ry="3.7"/><ellipse cx="711.55" cy="570.28" rx="7.8" ry="3.7"/><ellipse cx="711.55" cy="579.16" rx="7.8" ry="3.7"/><ellipse cx="711.55" cy="588.04" rx="7.8" ry="3.7"/><ellipse cx="711.55" cy="605.80" rx="7.8" ry="3.7"/><ellipse cx="711.55" cy="614.68" rx="7.8" ry="3.7"/><ellipse cx="711.55" cy="623.56" rx="7.8" ry="3.7"/><ellipse cx="711.55" cy="632.44" rx="7.8" ry="3.7"/><ellipse cx="711.55" cy="641.32" rx="7.8" ry="3.7"/><ellipse cx="711.55" cy="650.20" rx="7.8" ry="3.7"/><ellipse cx="711.55" cy="659.08" rx="7.8" ry="3.7"/><ellipse cx="711.55" cy="667.96" rx="7.8" ry="3.7"/><ellipse cx="711.55" cy="676.84" rx="7.8" ry="3.7"/><ellipse cx="711.55" cy="685.72" rx="7.8" ry="3.7"/><ellipse cx="711.55" cy="694.60" rx="7.8" ry="3.7"/><ellipse cx="711.55" cy="703.48" rx="7.8" ry="3.7"/><ellipse cx="711.55" cy="712.36" rx="7.8" ry="3.7"/><ellipse cx="711.55" cy="721.24" rx="7.8" ry="3.7"/><ellipse cx="711.55" cy="730.12" rx="7.8" ry="3.7"/>
<ellipse cx="727.55" cy="539.20" rx="7.8" ry="3.7"/><ellipse cx="727.55" cy="548.08" rx="7.8" ry="3.7"/><ellipse cx="727.55" cy="556.96" rx="7.8" ry="3.7"/><ellipse cx="727.55" cy="565.84" rx="7.8" ry="3.7"/><ellipse cx="727.55" cy="574.72" rx="7.8" ry="3.7"/><ellipse cx="727.55" cy="583.60" rx="7.8" ry="3.7"/><ellipse cx="727.55" cy="592.48" rx="7.8" ry="3.7"/><ellipse cx="727.55" cy="601.36" rx="7.8" ry="3.7"/><ellipse cx="727.55" cy="610.24" rx="7.8" ry="3.7"/><ellipse cx="727.55" cy="636.88" rx="7.8" ry="3.7"/><ellipse cx="727.55" cy="645.76" rx="7.8" ry="3.7"/><ellipse cx="727.55" cy="654.64" rx="7.8" ry="3.7"/><ellipse cx="727.55" cy="663.52" rx="7.8" ry="3.7"/><ellipse cx="727.55" cy="672.40" rx="7.8" ry="3.7"/><ellipse cx="727.55" cy="681.28" rx="7.8" ry="3.7"/><ellipse cx="727.55" cy="690.16" rx="7.8" ry="3.7"/><ellipse cx="727.55" cy="699.04" rx="7.8" ry="3.7"/><ellipse cx="727.55" cy="707.92" rx="7.8" ry="3.7"/>
<ellipse cx="745.22" cy="543.64" rx="7.8" ry="3.7"/><ellipse cx="745.22" cy="552.52" rx="7.8" ry="3.7"/><ellipse cx="745.22" cy="561.40" rx="7.8" ry="3.7"/><ellipse cx="745.22" cy="570.28" rx="7.8" ry="3.7"/><ellipse cx="745.22" cy="579.16" rx="7.8" ry="3.7"/><ellipse cx="745.22" cy="588.04" rx="7.8" ry="3.7"/><ellipse cx="745.22" cy="596.92" rx="7.8" ry="3.7"/><ellipse cx="745.22" cy="605.80" rx="7.8" ry="3.7"/><ellipse cx="745.22" cy="641.32" rx="7.8" ry="3.7"/><ellipse cx="745.22" cy="650.20" rx="7.8" ry="3.7"/><ellipse cx="745.22" cy="659.08" rx="7.8" ry="3.7"/><ellipse cx="745.22" cy="667.96" rx="7.8" ry="3.7"/><ellipse cx="745.22" cy="676.84" rx="7.8" ry="3.7"/><ellipse cx="745.22" cy="721.24" rx="7.8" ry="3.7"/><ellipse cx="745.22" cy="730.12" rx="7.8" ry="3.7"/>
<ellipse cx="761.22" cy="539.20" rx="7.8" ry="3.7"/><ellipse cx="761.22" cy="548.08" rx="7.8" ry="3.7"/><ellipse cx="761.22" cy="556.96" rx="7.8" ry="3.7"/><ellipse cx="761.22" cy="565.84" rx="7.8" ry="3.7"/><ellipse cx="761.22" cy="574.72" rx="7.8" ry="3.7"/><ellipse cx="761.22" cy="583.60" rx="7.8" ry="3.7"/><ellipse cx="761.22" cy="645.76" rx="7.8" ry="3.7"/><ellipse cx="761.22" cy="654.64" rx="7.8" ry="3.7"/><ellipse cx="761.22" cy="663.52" rx="7.8" ry="3.7"/><ellipse cx="761.22" cy="672.40" rx="7.8" ry="3.7"/><ellipse cx="761.22" cy="707.92" rx="7.8" ry="3.7"/><ellipse cx="761.22" cy="716.80" rx="7.8" ry="3.7"/><ellipse cx="761.22" cy="725.68" rx="7.8" ry="3.7"/>
<ellipse cx="778.90" cy="517.00" rx="7.8" ry="3.7"/><ellipse cx="778.90" cy="525.88" rx="7.8" ry="3.7"/><ellipse cx="778.90" cy="534.76" rx="7.8" ry="3.7"/><ellipse cx="778.90" cy="543.64" rx="7.8" ry="3.7"/><ellipse cx="778.90" cy="552.52" rx="7.8" ry="3.7"/><ellipse cx="778.90" cy="561.40" rx="7.8" ry="3.7"/><ellipse cx="778.90" cy="570.28" rx="7.8" ry="3.7"/><ellipse cx="778.90" cy="579.16" rx="7.8" ry="3.7"/><ellipse cx="778.90" cy="588.04" rx="7.8" ry="3.7"/><ellipse cx="778.90" cy="596.92" rx="7.8" ry="3.7"/><ellipse cx="778.90" cy="614.68" rx="7.8" ry="3.7"/><ellipse cx="778.90" cy="641.32" rx="7.8" ry="3.7"/><ellipse cx="778.90" cy="650.20" rx="7.8" ry="3.7"/>
<ellipse cx="794.90" cy="512.56" rx="7.8" ry="3.7"/><ellipse cx="794.90" cy="530.32" rx="7.8" ry="3.7"/><ellipse cx="794.90" cy="539.20" rx="7.8" ry="3.7"/><ellipse cx="794.90" cy="548.08" rx="7.8" ry="3.7"/><ellipse cx="794.90" cy="556.96" rx="7.8" ry="3.7"/><ellipse cx="794.90" cy="565.84" rx="7.8" ry="3.7"/><ellipse cx="794.90" cy="574.72" rx="7.8" ry="3.7"/><ellipse cx="794.90" cy="583.60" rx="7.8" ry="3.7"/><ellipse cx="794.90" cy="592.48" rx="7.8" ry="3.7"/><ellipse cx="794.90" cy="601.36" rx="7.8" ry="3.7"/><ellipse cx="794.90" cy="610.24" rx="7.8" ry="3.7"/><ellipse cx="794.90" cy="619.12" rx="7.8" ry="3.7"/><ellipse cx="794.90" cy="628.00" rx="7.8" ry="3.7"/><ellipse cx="794.90" cy="636.88" rx="7.8" ry="3.7"/><ellipse cx="794.90" cy="645.76" rx="7.8" ry="3.7"/>
<ellipse cx="812.57" cy="517.00" rx="7.8" ry="3.7"/><ellipse cx="812.57" cy="534.76" rx="7.8" ry="3.7"/><ellipse cx="812.57" cy="543.64" rx="7.8" ry="3.7"/><ellipse cx="812.57" cy="552.52" rx="7.8" ry="3.7"/><ellipse cx="812.57" cy="561.40" rx="7.8" ry="3.7"/><ellipse cx="812.57" cy="570.28" rx="7.8" ry="3.7"/><ellipse cx="812.57" cy="579.16" rx="7.8" ry="3.7"/><ellipse cx="812.57" cy="588.04" rx="7.8" ry="3.7"/><ellipse cx="812.57" cy="596.92" rx="7.8" ry="3.7"/><ellipse cx="812.57" cy="605.80" rx="7.8" ry="3.7"/><ellipse cx="812.57" cy="614.68" rx="7.8" ry="3.7"/><ellipse cx="812.57" cy="623.56" rx="7.8" ry="3.7"/><ellipse cx="812.57" cy="632.44" rx="7.8" ry="3.7"/>
<ellipse cx="828.57" cy="530.32" rx="7.8" ry="3.7"/><ellipse cx="828.57" cy="539.20" rx="7.8" ry="3.7"/><ellipse cx="828.57" cy="548.08" rx="7.8" ry="3.7"/><ellipse cx="828.57" cy="556.96" rx="7.8" ry="3.7"/><ellipse cx="828.57" cy="565.84" rx="7.8" ry="3.7"/><ellipse cx="828.57" cy="574.72" rx="7.8" ry="3.7"/><ellipse cx="828.57" cy="583.60" rx="7.8" ry="3.7"/><ellipse cx="828.57" cy="592.48" rx="7.8" ry="3.7"/><ellipse cx="828.57" cy="601.36" rx="7.8" ry="3.7"/><ellipse cx="828.57" cy="610.24" rx="7.8" ry="3.7"/><ellipse cx="828.57" cy="619.12" rx="7.8" ry="3.7"/><ellipse cx="828.57" cy="628.00" rx="7.8" ry="3.7"/><ellipse cx="828.57" cy="636.88" rx="7.8" ry="3.7"/>
<ellipse cx="846.25" cy="525.88" rx="7.8" ry="3.7"/><ellipse cx="846.25" cy="534.76" rx="7.8" ry="3.7"/><ellipse cx="846.25" cy="543.64" rx="7.8" ry="3.7"/><ellipse cx="846.25" cy="552.52" rx="7.8" ry="3.7"/><ellipse cx="846.25" cy="561.40" rx="7.8" ry="3.7"/><ellipse cx="846.25" cy="570.28" rx="7.8" ry="3.7"/><ellipse cx="846.25" cy="579.16" rx="7.8" ry="3.7"/><ellipse cx="846.25" cy="588.04" rx="7.8" ry="3.7"/><ellipse cx="846.25" cy="596.92" rx="7.8" ry="3.7"/><ellipse cx="846.25" cy="605.80" rx="7.8" ry="3.7"/><ellipse cx="846.25" cy="614.68" rx="7.8" ry="3.7"/><ellipse cx="846.25" cy="623.56" rx="7.8" ry="3.7"/><ellipse cx="846.25" cy="632.44" rx="7.8" ry="3.7"/><ellipse cx="846.25" cy="641.32" rx="7.8" ry="3.7"/><ellipse cx="846.25" cy="650.20" rx="7.8" ry="3.7"/><ellipse cx="846.25" cy="659.08" rx="7.8" ry="3.7"/>
<ellipse cx="862.25" cy="530.32" rx="7.8" ry="3.7"/><ellipse cx="862.25" cy="539.20" rx="7.8" ry="3.7"/><ellipse cx="862.25" cy="548.08" rx="7.8" ry="3.7"/><ellipse cx="862.25" cy="556.96" rx="7.8" ry="3.7"/><ellipse cx="862.25" cy="565.84" rx="7.8" ry="3.7"/><ellipse cx="862.25" cy="574.72" rx="7.8" ry="3.7"/><ellipse cx="862.25" cy="583.60" rx="7.8" ry="3.7"/><ellipse cx="862.25" cy="592.48" rx="7.8" ry="3.7"/><ellipse cx="862.25" cy="601.36" rx="7.8" ry="3.7"/><ellipse cx="862.25" cy="610.24" rx="7.8" ry="3.7"/><ellipse cx="862.25" cy="619.12" rx="7.8" ry="3.7"/><ellipse cx="862.25" cy="628.00" rx="7.8" ry="3.7"/><ellipse cx="862.25" cy="636.88" rx="7.8" ry="3.7"/><ellipse cx="862.25" cy="645.76" rx="7.8" ry="3.7"/><ellipse cx="862.25" cy="654.64" rx="7.8" ry="3.7"/><ellipse cx="862.25" cy="663.52" rx="7.8" ry="3.7"/>
<ellipse cx="879.92" cy="525.88" rx="7.8" ry="3.7"/><ellipse cx="879.92" cy="534.76" rx="7.8" ry="3.7"/><ellipse cx="879.92" cy="543.64" rx="7.8" ry="3.7"/><ellipse cx="879.92" cy="552.52" rx="7.8" ry="3.7"/><ellipse cx="879.92" cy="561.40" rx="7.8" ry="3.7"/><ellipse cx="879.92" cy="570.28" rx="7.8" ry="3.7"/><ellipse cx="879.92" cy="579.16" rx="7.8" ry="3.7"/><ellipse cx="879.92" cy="588.04" rx="7.8" ry="3.7"/><ellipse cx="879.92" cy="596.92" rx="7.8" ry="3.7"/><ellipse cx="879.92" cy="605.80" rx="7.8" ry="3.7"/><ellipse cx="879.92" cy="614.68" rx="7.8" ry="3.7"/><ellipse cx="879.92" cy="623.56" rx="7.8" ry="3.7"/><ellipse cx="879.92" cy="632.44" rx="7.8" ry="3.7"/><ellipse cx="879.92" cy="641.32" rx="7.8" ry="3.7"/><ellipse cx="879.92" cy="650.20" rx="7.8" ry="3.7"/><ellipse cx="879.92" cy="667.96" rx="7.8" ry="3.7"/>
<ellipse cx="895.92" cy="512.56" rx="7.8" ry="3.7"/><ellipse cx="895.92" cy="521.44" rx="7.8" ry="3.7"/><ellipse cx="895.92" cy="530.32" rx="7.8" ry="3.7"/><ellipse cx="895.92" cy="539.20" rx="7.8" ry="3.7"/><ellipse cx="895.92" cy="548.08" rx="7.8" ry="3.7"/><ellipse cx="895.92" cy="556.96" rx="7.8" ry="3.7"/><ellipse cx="895.92" cy="565.84" rx="7.8" ry="3.7"/><ellipse cx="895.92" cy="574.72" rx="7.8" ry="3.7"/><ellipse cx="895.92" cy="583.60" rx="7.8" ry="3.7"/><ellipse cx="895.92" cy="592.48" rx="7.8" ry="3.7"/><ellipse cx="895.92" cy="601.36" rx="7.8" ry="3.7"/><ellipse cx="895.92" cy="610.24" rx="7.8" ry="3.7"/><ellipse cx="895.92" cy="619.12" rx="7.8" ry="3.7"/><ellipse cx="895.92" cy="628.00" rx="7.8" ry="3.7"/><ellipse cx="895.92" cy="636.88" rx="7.8" ry="3.7"/>
<ellipse cx="913.60" cy="499.24" rx="7.8" ry="3.7"/><ellipse cx="913.60" cy="508.12" rx="7.8" ry="3.7"/><ellipse cx="913.60" cy="517.00" rx="7.8" ry="3.7"/><ellipse cx="913.60" cy="525.88" rx="7.8" ry="3.7"/><ellipse cx="913.60" cy="534.76" rx="7.8" ry="3.7"/><ellipse cx="913.60" cy="543.64" rx="7.8" ry="3.7"/><ellipse cx="913.60" cy="552.52" rx="7.8" ry="3.7"/><ellipse cx="913.60" cy="561.40" rx="7.8" ry="3.7"/><ellipse cx="913.60" cy="570.28" rx="7.8" ry="3.7"/><ellipse cx="913.60" cy="579.16" rx="7.8" ry="3.7"/><ellipse cx="913.60" cy="588.04" rx="7.8" ry="3.7"/><ellipse cx="913.60" cy="596.92" rx="7.8" ry="3.7"/><ellipse cx="913.60" cy="605.80" rx="7.8" ry="3.7"/><ellipse cx="913.60" cy="614.68" rx="7.8" ry="3.7"/><ellipse cx="913.60" cy="623.56" rx="7.8" ry="3.7"/><ellipse cx="913.60" cy="632.44" rx="7.8" ry="3.7"/><ellipse cx="913.60" cy="641.32" rx="7.8" ry="3.7"/>
<ellipse cx="929.60" cy="503.68" rx="7.8" ry="3.7"/><ellipse cx="929.60" cy="512.56" rx="7.8" ry="3.7"/><ellipse cx="929.60" cy="521.44" rx="7.8" ry="3.7"/><ellipse cx="929.60" cy="530.32" rx="7.8" ry="3.7"/><ellipse cx="929.60" cy="539.20" rx="7.8" ry="3.7"/><ellipse cx="929.60" cy="548.08" rx="7.8" ry="3.7"/><ellipse cx="929.60" cy="556.96" rx="7.8" ry="3.7"/><ellipse cx="929.60" cy="565.84" rx="7.8" ry="3.7"/><ellipse cx="929.60" cy="574.72" rx="7.8" ry="3.7"/><ellipse cx="929.60" cy="583.60" rx="7.8" ry="3.7"/><ellipse cx="929.60" cy="592.48" rx="7.8" ry="3.7"/><ellipse cx="929.60" cy="601.36" rx="7.8" ry="3.7"/><ellipse cx="929.60" cy="610.24" rx="7.8" ry="3.7"/><ellipse cx="929.60" cy="619.12" rx="7.8" ry="3.7"/><ellipse cx="929.60" cy="628.00" rx="7.8" ry="3.7"/><ellipse cx="929.60" cy="636.88" rx="7.8" ry="3.7"/><ellipse cx="929.60" cy="645.76" rx="7.8" ry="3.7"/><ellipse cx="929.60" cy="654.64" rx="7.8" ry="3.7"/><ellipse cx="929.60" cy="663.52" rx="7.8" ry="3.7"/><ellipse cx="929.60" cy="672.40" rx="7.8" ry="3.7"/>
<ellipse cx="947.27" cy="508.12" rx="7.8" ry="3.7"/><ellipse cx="947.27" cy="517.00" rx="7.8" ry="3.7"/><ellipse cx="947.27" cy="525.88" rx="7.8" ry="3.7"/><ellipse cx="947.27" cy="534.76" rx="7.8" ry="3.7"/><ellipse cx="947.27" cy="543.64" rx="7.8" ry="3.7"/><ellipse cx="947.27" cy="552.52" rx="7.8" ry="3.7"/><ellipse cx="947.27" cy="561.40" rx="7.8" ry="3.7"/><ellipse cx="947.27" cy="570.28" rx="7.8" ry="3.7"/><ellipse cx="947.27" cy="579.16" rx="7.8" ry="3.7"/><ellipse cx="947.27" cy="588.04" rx="7.8" ry="3.7"/><ellipse cx="947.27" cy="596.92" rx="7.8" ry="3.7"/><ellipse cx="947.27" cy="605.80" rx="7.8" ry="3.7"/><ellipse cx="947.27" cy="614.68" rx="7.8" ry="3.7"/><ellipse cx="947.27" cy="623.56" rx="7.8" ry="3.7"/><ellipse cx="947.27" cy="632.44" rx="7.8" ry="3.7"/><ellipse cx="947.27" cy="641.32" rx="7.8" ry="3.7"/><ellipse cx="947.27" cy="650.20" rx="7.8" ry="3.7"/><ellipse cx="947.27" cy="659.08" rx="7.8" ry="3.7"/>
<ellipse cx="963.27" cy="512.56" rx="7.8" ry="3.7"/><ellipse cx="963.27" cy="521.44" rx="7.8" ry="3.7"/><ellipse cx="963.27" cy="530.32" rx="7.8" ry="3.7"/><ellipse cx="963.27" cy="539.20" rx="7.8" ry="3.7"/><ellipse cx="963.27" cy="548.08" rx="7.8" ry="3.7"/><ellipse cx="963.27" cy="556.96" rx="7.8" ry="3.7"/><ellipse cx="963.27" cy="565.84" rx="7.8" ry="3.7"/><ellipse cx="963.27" cy="574.72" rx="7.8" ry="3.7"/><ellipse cx="963.27" cy="583.60" rx="7.8" ry="3.7"/><ellipse cx="963.27" cy="592.48" rx="7.8" ry="3.7"/><ellipse cx="963.27" cy="601.36" rx="7.8" ry="3.7"/><ellipse cx="963.27" cy="610.24" rx="7.8" ry="3.7"/><ellipse cx="963.27" cy="619.12" rx="7.8" ry="3.7"/><ellipse cx="963.27" cy="628.00" rx="7.8" ry="3.7"/><ellipse cx="963.27" cy="636.88" rx="7.8" ry="3.7"/><ellipse cx="963.27" cy="645.76" rx="7.8" ry="3.7"/><ellipse cx="963.27" cy="654.64" rx="7.8" ry="3.7"/><ellipse cx="963.27" cy="663.52" rx="7.8" ry="3.7"/>
<ellipse cx="980.95" cy="517.00" rx="7.8" ry="3.7"/><ellipse cx="980.95" cy="525.88" rx="7.8" ry="3.7"/><ellipse cx="980.95" cy="534.76" rx="7.8" ry="3.7"/><ellipse cx="980.95" cy="543.64" rx="7.8" ry="3.7"/><ellipse cx="980.95" cy="552.52" rx="7.8" ry="3.7"/><ellipse cx="980.95" cy="561.40" rx="7.8" ry="3.7"/><ellipse cx="980.95" cy="570.28" rx="7.8" ry="3.7"/><ellipse cx="980.95" cy="579.16" rx="7.8" ry="3.7"/><ellipse cx="980.95" cy="588.04" rx="7.8" ry="3.7"/><ellipse cx="980.95" cy="596.92" rx="7.8" ry="3.7"/><ellipse cx="980.95" cy="605.80" rx="7.8" ry="3.7"/><ellipse cx="980.95" cy="614.68" rx="7.8" ry="3.7"/><ellipse cx="980.95" cy="623.56" rx="7.8" ry="3.7"/><ellipse cx="980.95" cy="632.44" rx="7.8" ry="3.7"/><ellipse cx="980.95" cy="641.32" rx="7.8" ry="3.7"/><ellipse cx="980.95" cy="676.84" rx="7.8" ry="3.7"/>
<ellipse cx="996.95" cy="521.44" rx="7.8" ry="3.7"/><ellipse cx="996.95" cy="530.32" rx="7.8" ry="3.7"/><ellipse cx="996.95" cy="539.20" rx="7.8" ry="3.7"/><ellipse cx="996.95" cy="548.08" rx="7.8" ry="3.7"/><ellipse cx="996.95" cy="556.96" rx="7.8" ry="3.7"/><ellipse cx="996.95" cy="565.84" rx="7.8" ry="3.7"/><ellipse cx="996.95" cy="574.72" rx="7.8" ry="3.7"/><ellipse cx="996.95" cy="583.60" rx="7.8" ry="3.7"/><ellipse cx="996.95" cy="592.48" rx="7.8" ry="3.7"/><ellipse cx="996.95" cy="601.36" rx="7.8" ry="3.7"/><ellipse cx="996.95" cy="610.24" rx="7.8" ry="3.7"/><ellipse cx="996.95" cy="619.12" rx="7.8" ry="3.7"/><ellipse cx="996.95" cy="628.00" rx="7.8" ry="3.7"/><ellipse cx="996.95" cy="636.88" rx="7.8" ry="3.7"/><ellipse cx="996.95" cy="672.40" rx="7.8" ry="3.7"/><ellipse cx="996.95" cy="716.80" rx="7.8" ry="3.7"/><ellipse cx="996.95" cy="725.68" rx="7.8" ry="3.7"/><ellipse cx="996.95" cy="734.56" rx="7.8" ry="3.7"/><ellipse cx="996.95" cy="743.44" rx="7.8" ry="3.7"/>
<ellipse cx="1014.62" cy="525.88" rx="7.8" ry="3.7"/><ellipse cx="1014.62" cy="534.76" rx="7.8" ry="3.7"/><ellipse cx="1014.62" cy="543.64" rx="7.8" ry="3.7"/><ellipse cx="1014.62" cy="552.52" rx="7.8" ry="3.7"/><ellipse cx="1014.62" cy="561.40" rx="7.8" ry="3.7"/><ellipse cx="1014.62" cy="570.28" rx="7.8" ry="3.7"/><ellipse cx="1014.62" cy="579.16" rx="7.8" ry="3.7"/><ellipse cx="1014.62" cy="588.04" rx="7.8" ry="3.7"/><ellipse cx="1014.62" cy="596.92" rx="7.8" ry="3.7"/><ellipse cx="1014.62" cy="659.08" rx="7.8" ry="3.7"/><ellipse cx="1014.62" cy="712.36" rx="7.8" ry="3.7"/><ellipse cx="1014.62" cy="721.24" rx="7.8" ry="3.7"/><ellipse cx="1014.62" cy="730.12" rx="7.8" ry="3.7"/><ellipse cx="1014.62" cy="739.00" rx="7.8" ry="3.7"/>
<ellipse cx="1030.62" cy="521.44" rx="7.8" ry="3.7"/><ellipse cx="1030.62" cy="530.32" rx="7.8" ry="3.7"/><ellipse cx="1030.62" cy="539.20" rx="7.8" ry="3.7"/><ellipse cx="1030.62" cy="548.08" rx="7.8" ry="3.7"/><ellipse cx="1030.62" cy="556.96" rx="7.8" ry="3.7"/><ellipse cx="1030.62" cy="565.84" rx="7.8" ry="3.7"/><ellipse cx="1030.62" cy="574.72" rx="7.8" ry="3.7"/><ellipse cx="1030.62" cy="583.60" rx="7.8" ry="3.7"/><ellipse cx="1030.62" cy="592.48" rx="7.8" ry="3.7"/><ellipse cx="1030.62" cy="601.36" rx="7.8" ry="3.7"/><ellipse cx="1030.62" cy="610.24" rx="7.8" ry="3.7"/><ellipse cx="1030.62" cy="654.64" rx="7.8" ry="3.7"/><ellipse cx="1030.62" cy="663.52" rx="7.8" ry="3.7"/><ellipse cx="1030.62" cy="707.92" rx="7.8" ry="3.7"/><ellipse cx="1030.62" cy="716.80" rx="7.8" ry="3.7"/><ellipse cx="1030.62" cy="725.68" rx="7.8" ry="3.7"/><ellipse cx="1030.62" cy="734.56" rx="7.8" ry="3.7"/><ellipse cx="1030.62" cy="743.44" rx="7.8" ry="3.7"/>
<ellipse cx="1048.30" cy="525.88" rx="7.8" ry="3.7"/><ellipse cx="1048.30" cy="534.76" rx="7.8" ry="3.7"/><ellipse cx="1048.30" cy="543.64" rx="7.8" ry="3.7"/><ellipse cx="1048.30" cy="552.52" rx="7.8" ry="3.7"/><ellipse cx="1048.30" cy="561.40" rx="7.8" ry="3.7"/><ellipse cx="1048.30" cy="570.28" rx="7.8" ry="3.7"/><ellipse cx="1048.30" cy="579.16" rx="7.8" ry="3.7"/><ellipse cx="1048.30" cy="588.04" rx="7.8" ry="3.7"/><ellipse cx="1048.30" cy="596.92" rx="7.8" ry="3.7"/><ellipse cx="1048.30" cy="614.68" rx="7.8" ry="3.7"/><ellipse cx="1048.30" cy="623.56" rx="7.8" ry="3.7"/><ellipse cx="1048.30" cy="685.72" rx="7.8" ry="3.7"/><ellipse cx="1048.30" cy="703.48" rx="7.8" ry="3.7"/><ellipse cx="1048.30" cy="712.36" rx="7.8" ry="3.7"/><ellipse cx="1048.30" cy="721.24" rx="7.8" ry="3.7"/><ellipse cx="1048.30" cy="730.12" rx="7.8" ry="3.7"/><ellipse cx="1048.30" cy="739.00" rx="7.8" ry="3.7"/>
<ellipse cx="1064.30" cy="512.56" rx="7.8" ry="3.7"/><ellipse cx="1064.30" cy="530.32" rx="7.8" ry="3.7"/><ellipse cx="1064.30" cy="539.20" rx="7.8" ry="3.7"/><ellipse cx="1064.30" cy="548.08" rx="7.8" ry="3.7"/><ellipse cx="1064.30" cy="556.96" rx="7.8" ry="3.7"/><ellipse cx="1064.30" cy="565.84" rx="7.8" ry="3.7"/><ellipse cx="1064.30" cy="574.72" rx="7.8" ry="3.7"/><ellipse cx="1064.30" cy="583.60" rx="7.8" ry="3.7"/><ellipse cx="1064.30" cy="592.48" rx="7.8" ry="3.7"/><ellipse cx="1064.30" cy="610.24" rx="7.8" ry="3.7"/><ellipse cx="1064.30" cy="690.16" rx="7.8" ry="3.7"/><ellipse cx="1064.30" cy="707.92" rx="7.8" ry="3.7"/><ellipse cx="1064.30" cy="716.80" rx="7.8" ry="3.7"/><ellipse cx="1064.30" cy="725.68" rx="7.8" ry="3.7"/><ellipse cx="1064.30" cy="734.56" rx="7.8" ry="3.7"/><ellipse cx="1064.30" cy="743.44" rx="7.8" ry="3.7"/><ellipse cx="1064.30" cy="752.32" rx="7.8" ry="3.7"/>
<ellipse cx="1081.97" cy="517.00" rx="7.8" ry="3.7"/><ellipse cx="1081.97" cy="525.88" rx="7.8" ry="3.7"/><ellipse cx="1081.97" cy="534.76" rx="7.8" ry="3.7"/><ellipse cx="1081.97" cy="543.64" rx="7.8" ry="3.7"/><ellipse cx="1081.97" cy="552.52" rx="7.8" ry="3.7"/><ellipse cx="1081.97" cy="561.40" rx="7.8" ry="3.7"/><ellipse cx="1081.97" cy="579.16" rx="7.8" ry="3.7"/><ellipse cx="1081.97" cy="588.04" rx="7.8" ry="3.7"/><ellipse cx="1081.97" cy="596.92" rx="7.8" ry="3.7"/><ellipse cx="1081.97" cy="605.80" rx="7.8" ry="3.7"/><ellipse cx="1081.97" cy="614.68" rx="7.8" ry="3.7"/><ellipse cx="1081.97" cy="685.72" rx="7.8" ry="3.7"/><ellipse cx="1081.97" cy="694.60" rx="7.8" ry="3.7"/><ellipse cx="1081.97" cy="703.48" rx="7.8" ry="3.7"/><ellipse cx="1081.97" cy="712.36" rx="7.8" ry="3.7"/><ellipse cx="1081.97" cy="721.24" rx="7.8" ry="3.7"/><ellipse cx="1081.97" cy="730.12" rx="7.8" ry="3.7"/><ellipse cx="1081.97" cy="739.00" rx="7.8" ry="3.7"/><ellipse cx="1081.97" cy="747.88" rx="7.8" ry="3.7"/><ellipse cx="1081.97" cy="756.76" rx="7.8" ry="3.7"/>
<ellipse cx="1097.97" cy="512.56" rx="7.8" ry="3.7"/><ellipse cx="1097.97" cy="530.32" rx="7.8" ry="3.7"/><ellipse cx="1097.97" cy="539.20" rx="7.8" ry="3.7"/><ellipse cx="1097.97" cy="548.08" rx="7.8" ry="3.7"/><ellipse cx="1097.97" cy="556.96" rx="7.8" ry="3.7"/><ellipse cx="1097.97" cy="592.48" rx="7.8" ry="3.7"/><ellipse cx="1097.97" cy="690.16" rx="7.8" ry="3.7"/><ellipse cx="1097.97" cy="699.04" rx="7.8" ry="3.7"/><ellipse cx="1097.97" cy="707.92" rx="7.8" ry="3.7"/><ellipse cx="1097.97" cy="716.80" rx="7.8" ry="3.7"/><ellipse cx="1097.97" cy="725.68" rx="7.8" ry="3.7"/><ellipse cx="1097.97" cy="734.56" rx="7.8" ry="3.7"/><ellipse cx="1097.97" cy="743.44" rx="7.8" ry="3.7"/><ellipse cx="1097.97" cy="752.32" rx="7.8" ry="3.7"/><ellipse cx="1097.97" cy="761.20" rx="7.8" ry="3.7"/>
<ellipse cx="1115.65" cy="534.76" rx="7.8" ry="3.7"/><ellipse cx="1115.65" cy="543.64" rx="7.8" ry="3.7"/><ellipse cx="1115.65" cy="552.52" rx="7.8" ry="3.7"/><ellipse cx="1115.65" cy="685.72" rx="7.8" ry="3.7"/><ellipse cx="1115.65" cy="694.60" rx="7.8" ry="3.7"/><ellipse cx="1115.65" cy="721.24" rx="7.8" ry="3.7"/><ellipse cx="1115.65" cy="730.12" rx="7.8" ry="3.7"/><ellipse cx="1115.65" cy="739.00" rx="7.8" ry="3.7"/><ellipse cx="1115.65" cy="747.88" rx="7.8" ry="3.7"/>
<ellipse cx="1131.65" cy="530.32" rx="7.8" ry="3.7"/><ellipse cx="1131.65" cy="539.20" rx="7.8" ry="3.7"/><ellipse cx="1131.65" cy="548.08" rx="7.8" ry="3.7"/><ellipse cx="1131.65" cy="556.96" rx="7.8" ry="3.7"/><ellipse cx="1131.65" cy="565.84" rx="7.8" ry="3.7"/><ellipse cx="1131.65" cy="574.72" rx="7.8" ry="3.7"/><ellipse cx="1131.65" cy="690.16" rx="7.8" ry="3.7"/><ellipse cx="1131.65" cy="699.04" rx="7.8" ry="3.7"/>
<ellipse cx="1149.32" cy="534.76" rx="7.8" ry="3.7"/><ellipse cx="1149.32" cy="543.64" rx="7.8" ry="3.7"/><ellipse cx="1149.32" cy="552.52" rx="7.8" ry="3.7"/><ellipse cx="1149.32" cy="561.40" rx="7.8" ry="3.7"/><ellipse cx="1149.32" cy="570.28" rx="7.8" ry="3.7"/>
<ellipse cx="1165.32" cy="530.32" rx="7.8" ry="3.7"/><ellipse cx="1165.32" cy="539.20" rx="7.8" ry="3.7"/><ellipse cx="1165.32" cy="548.08" rx="7.8" ry="3.7"/><ellipse cx="1165.32" cy="556.96" rx="7.8" ry="3.7"/><ellipse cx="1165.32" cy="707.92" rx="7.8" ry="3.7"/><ellipse cx="1165.32" cy="716.80" rx="7.8" ry="3.7"/><ellipse cx="1165.32" cy="725.68" rx="7.8" ry="3.7"/><ellipse cx="1165.32" cy="770.08" rx="7.8" ry="3.7"/>
<ellipse cx="1183.00" cy="534.76" rx="7.8" ry="3.7"/><ellipse cx="1183.00" cy="543.64" rx="7.8" ry="3.7"/><ellipse cx="1183.00" cy="552.52" rx="7.8" ry="3.7"/><ellipse cx="1183.00" cy="561.40" rx="7.8" ry="3.7"/><ellipse cx="1183.00" cy="712.36" rx="7.8" ry="3.7"/><ellipse cx="1183.00" cy="765.64" rx="7.8" ry="3.7"/><ellipse cx="1183.00" cy="774.52" rx="7.8" ry="3.7"/>
<ellipse cx="1199.00" cy="530.32" rx="7.8" ry="3.7"/><ellipse cx="1199.00" cy="539.20" rx="7.8" ry="3.7"/><ellipse cx="1199.00" cy="548.08" rx="7.8" ry="3.7"/><ellipse cx="1199.00" cy="743.44" rx="7.8" ry="3.7"/><ellipse cx="1199.00" cy="752.32" rx="7.8" ry="3.7"/><ellipse cx="1199.00" cy="761.20" rx="7.8" ry="3.7"/>
<ellipse cx="871.25" cy="687.25" rx="7.8" ry="3.7"/>
</g>
<g class="o">
<ellipse cx="610.52" cy="614.68" rx="7.8" ry="3.7"/><ellipse cx="610.52" cy="623.56" rx="7.8" ry="3.7"/><ellipse cx="610.52" cy="632.44" rx="7.8" ry="3.7"/>
<ellipse cx="626.52" cy="610.24" rx="7.8" ry="3.7"/><ellipse cx="626.52" cy="619.12" rx="7.8" ry="3.7"/><ellipse cx="626.52" cy="628.00" rx="7.8" ry="3.7"/><ellipse cx="626.52" cy="636.88" rx="7.8" ry="3.7"/>
<ellipse cx="644.20" cy="623.56" rx="7.8" ry="3.7"/>
<ellipse cx="677.87" cy="623.56" rx="7.8" ry="3.7"/>
<ellipse cx="693.87" cy="628.00" rx="7.8" ry="3.7"/><ellipse cx="693.87" cy="636.88" rx="7.8" ry="3.7"/>
<ellipse cx="727.55" cy="619.12" rx="7.8" ry="3.7"/><ellipse cx="727.55" cy="628.00" rx="7.8" ry="3.7"/>
<ellipse cx="745.22" cy="614.68" rx="7.8" ry="3.7"/><ellipse cx="745.22" cy="623.56" rx="7.8" ry="3.7"/><ellipse cx="745.22" cy="632.44" rx="7.8" ry="3.7"/>
<ellipse cx="761.22" cy="610.24" rx="7.8" ry="3.7"/><ellipse cx="761.22" cy="619.12" rx="7.8" ry="3.7"/><ellipse cx="761.22" cy="628.00" rx="7.8" ry="3.7"/><ellipse cx="761.22" cy="636.88" rx="7.8" ry="3.7"/>
<ellipse cx="778.90" cy="623.56" rx="7.8" ry="3.7"/><ellipse cx="778.90" cy="632.44" rx="7.8" ry="3.7"/>
<ellipse cx="929.60" cy="681.28" rx="7.8" ry="3.7"/>
<ellipse cx="947.27" cy="676.84" rx="7.8" ry="3.7"/><ellipse cx="947.27" cy="685.72" rx="7.8" ry="3.7"/><ellipse cx="947.27" cy="694.60" rx="7.8" ry="3.7"/>
<ellipse cx="963.27" cy="690.16" rx="7.8" ry="3.7"/>
<ellipse cx="980.95" cy="685.72" rx="7.8" ry="3.7"/><ellipse cx="980.95" cy="694.60" rx="7.8" ry="3.7"/>
<ellipse cx="996.95" cy="681.28" rx="7.8" ry="3.7"/><ellipse cx="996.95" cy="690.16" rx="7.8" ry="3.7"/><ellipse cx="996.95" cy="699.04" rx="7.8" ry="3.7"/>
<ellipse cx="1014.62" cy="676.84" rx="7.8" ry="3.7"/><ellipse cx="1014.62" cy="685.72" rx="7.8" ry="3.7"/><ellipse cx="1014.62" cy="694.60" rx="7.8" ry="3.7"/>
<ellipse cx="1030.62" cy="690.16" rx="7.8" ry="3.7"/>
</g>
</svg>
<svg width="1280" height="853" viewBox="0 0 1280 853">
<path class="ln" d="M37 241H726.9V618"/>
<path class="ln" d="M38.1 370.5H626.4V626"/>
<path class="ln" d="M762.7 241H1225V442L999 689"/>
</svg>
<h1 class="t" id="t1" style="top:32.5px;font-size:44.0px;font-weight:bold;color:#f4691c;-webkit-text-stroke:0.45px #f4691c;"><span style="left:35.31px;transform:scaleX(0.9791)"><b>К</b>лючевые</span> <span style="left:269.76px;transform:scaleX(0.9889)">страны</span> <span style="left:436.59px;transform:scaleX(0.9843)">экспорта</span></h1>
<h2 class="t" id="t2" style="top:95.65px;font-size:44.0px;font-weight:bold;color:#ffffff;-webkit-text-stroke:0.45px #ffffff;"><span style="left:34.78px;transform:scaleX(1.0074)">продукции</span> <span style="left:279.51px;transform:scaleX(0.9406)">халяль</span> <span style="left:434.67px;transform:scaleX(1.0224)">из</span> <span style="left:493.0px;transform:scaleX(0.9717)"><b>Т</b>атарстана</span></h2>
<p class="t" id="c1" style="top:198.33px;font-size:34.5px;font-weight:normal;color:#ffffff;-webkit-text-stroke:0.4px #ffffff;"><span style="left:44.52px;transform:scaleX(0.9792)">Страны</span> <span style="left:170.53px;transform:scaleX(0.9875)">Персидского</span> <span style="left:380.08px;transform:scaleX(0.9453)">залива:</span></p>
<p class="t" id="c2" style="top:245.63px;font-size:34.5px;font-weight:normal;color:#ffffff;-webkit-text-stroke:0.4px #ffffff;"><span style="left:44.75px;transform:scaleX(0.8468)">ОАЭ,</span> <span style="left:122.55px;transform:scaleX(0.9455)">Саудовская</span> <span style="left:308.82px;transform:scaleX(0.9197)">Аравия</span></p>
<p class="t" id="c3" style="top:326.43px;font-size:34.5px;font-weight:normal;color:#ffffff;-webkit-text-stroke:0.4px #ffffff;"><span style="left:44.52px;transform:scaleX(0.9792)">Страны</span> <span style="left:171.04px;transform:scaleX(0.9581)">Северной</span> <span style="left:330.07px;transform:scaleX(0.9485)">Африки:</span></p>
<p class="t" id="c4" style="top:373.58px;font-size:34.5px;font-weight:normal;color:#ffffff;-webkit-text-stroke:0.4px #ffffff;"><span style="left:45.0px;transform:scaleX(0.947)">Тунис,</span> <span style="left:148.82px;transform:scaleX(0.9659)">Алжир,</span> <span style="left:267.38px;transform:scaleX(0.9357)">Египет</span></p>
<p class="t" id="c5" style="top:199.13px;font-size:34.5px;font-weight:normal;color:#ffffff;-webkit-text-stroke:0.4px #ffffff;"><span style="left:767.83px;transform:scaleX(0.9746)">Страны</span> <span style="left:894.28px;transform:scaleX(0.9866)">Юго-Восточной</span> <span style="left:1143.82px;transform:scaleX(0.9724)">Азии:</span></p>
<p class="t" id="c6" style="top:246.93px;font-size:34.5px;font-weight:normal;color:#ffffff;-webkit-text-stroke:0.4px #ffffff;"><span style="left:767.81px;transform:scaleX(0.9432)">Индонезия,</span> <span style="left:949.39px;transform:scaleX(0.9315)">Малайзия</span></p>
<footer class="t" id="ft" style="top:814.17px;font-size:18.6px;font-weight:normal;color:#e8e8e8;-webkit-text-stroke:0.2px #e8e8e8;"><span style="left:45.5px;transform:scaleX(1.0347)">Данные</span> <span style="left:119.48px;transform:scaleX(1.021)">министерства</span> <span style="left:247.18px;transform:scaleX(1.0633)">сельского</span> <span style="left:340.75px;transform:scaleX(1.0055)">хозяйства</span> <span style="left:433.36px;transform:scaleX(1.1373)">и</span> <span style="left:448.97px;transform:scaleX(1.0326)">продовольствия</span> <span style="left:597.5px;transform:scaleX(0.987)">Татарстана</span></footer>
<svg width="1280" height="853" viewBox="0 0 1280 853">
<g font-family="Liberation Sans, sans-serif" font-weight="bold" fill="#d0d0d0" stroke="#d0d0d0" stroke-linejoin="miter" stroke-miterlimit="1.5">
<text transform="translate(1089.85 52.35) scale(1.193 1)" font-size="20.5" stroke-width="3.3">ВЕЧЕРНЯЯ</text>
<text transform="translate(1090.80 82.80) scale(1.053 1)" font-size="34.6" stroke-width="8.0">КАЗАНЬ</text>
</g></svg>
</body>
</html>
